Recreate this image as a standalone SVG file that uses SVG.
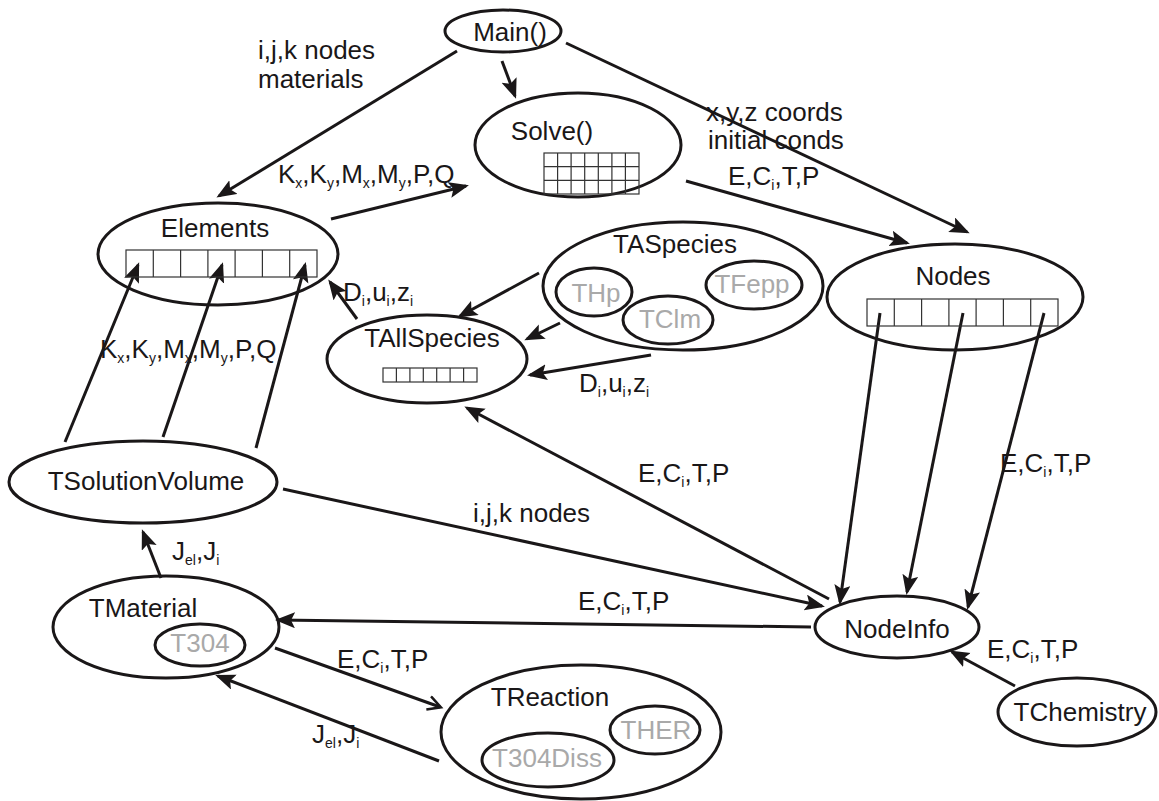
<svg xmlns="http://www.w3.org/2000/svg" width="1159" height="801" viewBox="0 0 1159 801">
  <style>
    text { font-family: "Liberation Sans", Arial, sans-serif; font-size: 26px; fill: #1a1718; }
    .c { text-anchor: middle; }
    .g { fill: #a9a9a9; }
    .sb { font-size: 14px; }
    .node { fill: none; stroke: #1a1718; stroke-width: 3; }
    .grid { fill: none; stroke: #333; stroke-width: 1.2; }
    .edge { fill: none; stroke: #1a1718; stroke-width: 3; }
    .arr { marker-end: url(#head); }
    .open { marker-end: url(#vhead); }
  </style>
  <defs>
    <marker id="head" markerUnits="userSpaceOnUse" markerWidth="22" markerHeight="18" refX="17" refY="8" orient="auto">
      <path d="M0,0 L20,8 L0,16 L4,8 Z" fill="#1a1718"/>
    </marker>
    <marker id="vhead" markerUnits="userSpaceOnUse" markerWidth="18" markerHeight="18" refX="14" refY="8" orient="auto">
      <path d="M2,1 L15,8 L2,15" fill="none" stroke="#1a1718" stroke-width="2.5"/>
    </marker>
  </defs>

  <rect width="1159" height="801" fill="#fff"/>

  <!-- connectors -->
  <g id="connectors">
    <line class="edge arr" x1="457" y1="51" x2="219" y2="196"/>
    <line class="edge arr" x1="502" y1="61" x2="515" y2="96"/>
    <line class="edge arr" x1="566" y1="43" x2="967" y2="232"/>
    <line class="edge arr" x1="686" y1="181" x2="907" y2="243"/>
    <line class="edge arr" x1="331" y1="219" x2="466" y2="186"/>
    <line class="edge arr" x1="357" y1="319" x2="330" y2="282"/>
    <line class="edge arr" x1="539" y1="273" x2="460" y2="316"/>
    <line class="edge arr" x1="560" y1="323" x2="527" y2="339"/>
    <line class="edge arr" x1="651" y1="355" x2="530" y2="375"/>
    <line class="edge arr" x1="65" y1="442" x2="138" y2="265"/>
    <line class="edge arr" x1="163" y1="437" x2="222" y2="265"/>
    <line class="edge arr" x1="256" y1="448" x2="305" y2="265"/>
    <line class="edge arr" x1="880" y1="313" x2="840" y2="602"/>
    <line class="edge arr" x1="963" y1="313" x2="907" y2="592"/>
    <line class="edge arr" x1="1044" y1="313" x2="968" y2="607"/>
    <line class="edge arr" x1="829" y1="599" x2="467" y2="408"/>
    <line class="edge arr" x1="283" y1="489" x2="822" y2="606"/>
    <line class="edge arr" x1="811" y1="627" x2="278" y2="620"/>
    <line class="edge open" x1="275" y1="648" x2="440" y2="707"/>
    <line class="edge arr" x1="439" y1="761" x2="218" y2="676"/>
    <line class="edge arr" x1="161" y1="578" x2="143" y2="532"/>
    <line class="edge arr" x1="1015" y1="686" x2="952" y2="652"/>

    <!-- connector labels -->
    <text x="258" y="59">i,j,k nodes</text>
    <text x="258" y="88">materials</text>
    <text x="706" y="121">x,y,z coords</text>
    <text x="708" y="149">initial conds</text>
    <text x="728" y="185">E,C<tspan class="sb" dy="5">i</tspan><tspan dy="-5">,T,P</tspan></text>
    <text x="278" y="183">K<tspan class="sb" dy="5">x</tspan><tspan dy="-5">,K</tspan><tspan class="sb" dy="5">y</tspan><tspan dy="-5">,M</tspan><tspan class="sb" dy="5">x</tspan><tspan dy="-5">,M</tspan><tspan class="sb" dy="5">y</tspan><tspan dy="-5">,P,Q</tspan></text>
    <text x="343" y="301">D<tspan class="sb" dy="5">i</tspan><tspan dy="-5">,u</tspan><tspan class="sb" dy="5">i</tspan><tspan dy="-5">,z</tspan><tspan class="sb" dy="5">i</tspan></text>
    <text x="579" y="392">D<tspan class="sb" dy="5">i</tspan><tspan dy="-5">,u</tspan><tspan class="sb" dy="5">i</tspan><tspan dy="-5">,z</tspan><tspan class="sb" dy="5">i</tspan></text>
    <text x="100" y="358">K<tspan class="sb" dy="5">x</tspan><tspan dy="-5">,K</tspan><tspan class="sb" dy="5">y</tspan><tspan dy="-5">,M</tspan><tspan class="sb" dy="5">x</tspan><tspan dy="-5">,M</tspan><tspan class="sb" dy="5">y</tspan><tspan dy="-5">,P,Q</tspan></text>
    <text x="1000" y="472">E,C<tspan class="sb" dy="5">i</tspan><tspan dy="-5">,T,P</tspan></text>
    <text x="638" y="482">E,C<tspan class="sb" dy="5">i</tspan><tspan dy="-5">,T,P</tspan></text>
    <text x="473" y="522">i,j,k nodes</text>
    <text x="578" y="610">E,C<tspan class="sb" dy="5">i</tspan><tspan dy="-5">,T,P</tspan></text>
    <text x="337" y="668">E,C<tspan class="sb" dy="5">i</tspan><tspan dy="-5">,T,P</tspan></text>
    <text x="312" y="743">J<tspan class="sb" dy="5">el</tspan><tspan dy="-5">,J</tspan><tspan class="sb" dy="5">i</tspan></text>
    <text x="172" y="560">J<tspan class="sb" dy="5">el</tspan><tspan dy="-5">,J</tspan><tspan class="sb" dy="5">i</tspan></text>
    <text x="987" y="658">E,C<tspan class="sb" dy="5">i</tspan><tspan dy="-5">,T,P</tspan></text>
  </g>

  <g id="main">
    <ellipse class="node" cx="503" cy="31" rx="58" ry="21"/>
    <text class="c" x="510" y="41">Main()</text>
  </g>

  <g id="solve">
    <ellipse class="node" cx="578" cy="145" rx="103" ry="52"/>
    <text class="c" x="552" y="140">Solve()</text>
    <g class="grid">
      <rect x="544" y="153" width="95" height="41"/>
      <path d="M557.6,153V194M571.1,153V194M584.7,153V194M598.3,153V194M611.9,153V194M625.4,153V194M544,166.7H639M544,180.3H639"/>
    </g>
  </g>

  <g id="elements">
    <ellipse class="node" cx="218" cy="254" rx="120" ry="51"/>
    <text class="c" x="215" y="237">Elements</text>
    <g class="grid">
      <rect x="126" y="250" width="191" height="27"/>
      <path d="M153.3,250V277M180.6,250V277M207.9,250V277M235.1,250V277M262.4,250V277M289.7,250V277"/>
    </g>
  </g>

  <g id="nodes">
    <ellipse class="node" cx="955" cy="297" rx="128" ry="53"/>
    <text class="c" x="953" y="285">Nodes</text>
    <g class="grid">
      <rect x="867" y="299" width="191" height="27"/>
      <path d="M894.3,299V326M921.6,299V326M948.9,299V326M976.1,299V326M1003.4,299V326M1030.7,299V326"/>
    </g>
  </g>

  <g id="taspecies">
    <ellipse class="node" cx="683" cy="286" rx="140" ry="64"/>
    <text class="c" x="675" y="253">TASpecies</text>
    <g id="thp">
      <ellipse class="node" cx="594" cy="292" rx="38" ry="24"/>
      <text class="c g" x="596" y="302">THp</text>
    </g>
    <g id="tclm">
      <ellipse class="node" cx="668" cy="320" rx="45" ry="24"/>
      <text class="c g" x="670" y="328">TClm</text>
    </g>
    <g id="tfepp">
      <ellipse class="node" cx="754" cy="285" rx="48" ry="24"/>
      <text class="c g" x="752" y="293">TFepp</text>
    </g>
  </g>

  <g id="tallspecies">
    <ellipse class="node" cx="427" cy="359" rx="100" ry="44"/>
    <text class="c" x="432" y="347">TAllSpecies</text>
    <g class="grid">
      <rect x="383" y="368" width="94" height="14"/>
      <path d="M396.4,368V382M409.9,368V382M423.3,368V382M436.7,368V382M450.1,368V382M463.6,368V382"/>
    </g>
  </g>

  <g id="tsolutionvolume">
    <ellipse class="node" cx="143" cy="482" rx="134" ry="41"/>
    <text class="c" x="146" y="490">TSolutionVolume</text>
  </g>

  <g id="tmaterial">
    <ellipse class="node" cx="166" cy="627" rx="113" ry="51"/>
    <text class="c" x="143" y="617">TMaterial</text>
    <g id="t304">
      <ellipse class="node" cx="200" cy="645" rx="45" ry="21"/>
      <text class="c g" x="200" y="652">T304</text>
    </g>
  </g>

  <g id="treaction">
    <ellipse class="node" cx="581" cy="732" rx="140" ry="67"/>
    <text class="c" x="550" y="706">TReaction</text>
    <g id="ther">
      <ellipse class="node" cx="655" cy="730" rx="45" ry="24"/>
      <text class="c g" x="656" y="739">THER</text>
    </g>
    <g id="t304diss">
      <ellipse class="node" cx="548" cy="760" rx="66" ry="27"/>
      <text class="c g" x="547" y="767">T304Diss</text>
    </g>
  </g>

  <g id="nodeinfo">
    <ellipse class="node" cx="897" cy="627" rx="82" ry="31"/>
    <text class="c" x="897" y="638">NodeInfo</text>
  </g>

  <g id="tchemistry">
    <ellipse class="node" cx="1077" cy="712" rx="79" ry="34"/>
    <text class="c" x="1080" y="721">TChemistry</text>
  </g>
</svg>
